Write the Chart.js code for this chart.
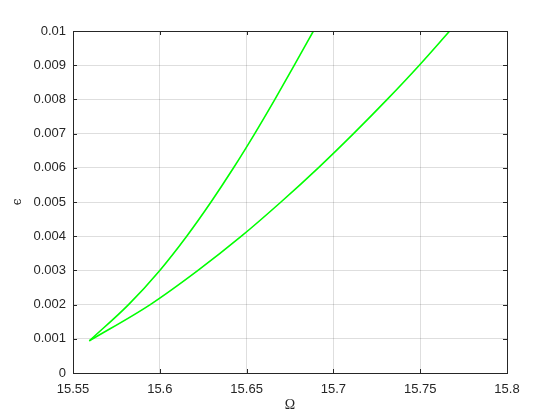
<!DOCTYPE html>
<html>
<head>
<meta charset="utf-8">
<script src="https://cdn.jsdelivr.net/npm/chart.js@4/dist/chart.umd.min.js"></script>
<style>
  html, body { margin: 0; padding: 0; background: #fff; }
  #wrap { width: 560px; height: 420px; }
</style>
</head>
<body>
<div id="wrap"><canvas id="c"></canvas></div>
<script>
// branch 1 (steep)
const omegaUpper = [15.5594, 15.582, 15.600, 15.6155, 15.6295, 15.6425, 15.6547, 15.6663, 15.6775, 15.6885];
const epsUpper   = [0.00094, 0.002, 0.003, 0.004, 0.005, 0.006, 0.007, 0.008, 0.009, 0.010];
// branch 2 (shallow)
const omegaLower = [15.5594, 15.5945, 15.622, 15.647, 15.6698, 15.6913, 15.7116, 15.731, 15.7495, 15.767];
const epsLower   = [0.00094, 0.002, 0.003, 0.004, 0.005, 0.006, 0.007, 0.008, 0.009, 0.010];

const xMin = 15.55, xMax = 15.8, xStep = 0.05;
const yMin = 0, yMax = 0.01, yStep = 0.001;

const toPts = (xs, ys) => xs.map((x, i) => ({ x: x, y: ys[i] }));
const fmt = v => String(parseFloat(v.toFixed(4)));

// box round the plot with inward ticks on all four sides
const boxTicks = {
    id: 'boxTicks',
    afterDraw(chart) {
        const { ctx, chartArea: a, scales } = chart;
        const len = 4;
        ctx.save();
        ctx.strokeStyle = '#262626';
        ctx.lineWidth = 1;
        ctx.beginPath();
        scales.x.ticks.forEach(t => {
            const px = Math.round(scales.x.getPixelForValue(t.value)) + 0.5;
            ctx.moveTo(px, a.bottom); ctx.lineTo(px, a.bottom - len);
            ctx.moveTo(px, a.top); ctx.lineTo(px, a.top + len);
        });
        scales.y.ticks.forEach(t => {
            const py = Math.round(scales.y.getPixelForValue(t.value)) + 0.5;
            ctx.moveTo(a.left, py); ctx.lineTo(a.left + len, py);
            ctx.moveTo(a.right, py); ctx.lineTo(a.right - len, py);
        });
        ctx.stroke();
        ctx.strokeRect(Math.round(a.left) + 0.5, Math.round(a.top) + 0.5,
            Math.round(a.right - a.left), Math.round(a.bottom - a.top));
        ctx.restore();
    }
};

const tickFont = { family: 'Liberation Sans, Arial, sans-serif', size: 13 };
const gridStyle = { color: 'rgba(0,0,0,0.13)', lineWidth: 1, drawTicks: false };

new Chart(document.getElementById('c'), {
    type: 'scatter',
    data: {
        datasets: [
            {
                data: toPts(omegaUpper, epsUpper),
                showLine: true,
                borderColor: '#00ff00',
                borderWidth: 1.6,
                pointRadius: 0,
                cubicInterpolationMode: 'monotone'
            },
            {
                data: toPts(omegaLower, epsLower),
                showLine: true,
                borderColor: '#00ff00',
                borderWidth: 1.6,
                pointRadius: 0,
                cubicInterpolationMode: 'monotone'
            }
        ]
    },
    options: {
        responsive: true,
        maintainAspectRatio: false,
        animation: false,
        layout: { padding: { left: 0, top: 31, right: 53, bottom: 0 } },
        plugins: {
            legend: { display: false },
            tooltip: { enabled: false }
        },
        scales: {
            x: {
                type: 'linear',
                min: xMin, max: xMax,
                border: { display: false },
                grid: gridStyle,
                ticks: { stepSize: xStep, padding: 9, color: '#262626', font: tickFont, maxRotation: 0,
                         callback: v => fmt(v) },
                title: { display: true, text: 'Ω', color: '#262626',
                         font: { family: 'Liberation Serif, Times New Roman, serif', size: 14 },
                         padding: { top: 6, bottom: 6 } },
                afterFit: s => { s.height = 47; }
            },
            y: {
                type: 'linear',
                min: yMin, max: yMax,
                border: { display: false },
                grid: gridStyle,
                ticks: { stepSize: yStep, padding: 7, color: '#262626', font: tickFont,
                         callback: v => fmt(v) },
                title: { display: true, text: 'ϵ', color: '#262626',
                         font: { family: 'DejaVu Serif, Liberation Serif, serif', size: 12 },
                         padding: { top: 11, bottom: 11 } },
                afterFit: s => { s.width = 73; }
            }
        }
    },
    plugins: [boxTicks]
});
</script>
</body>
</html>
